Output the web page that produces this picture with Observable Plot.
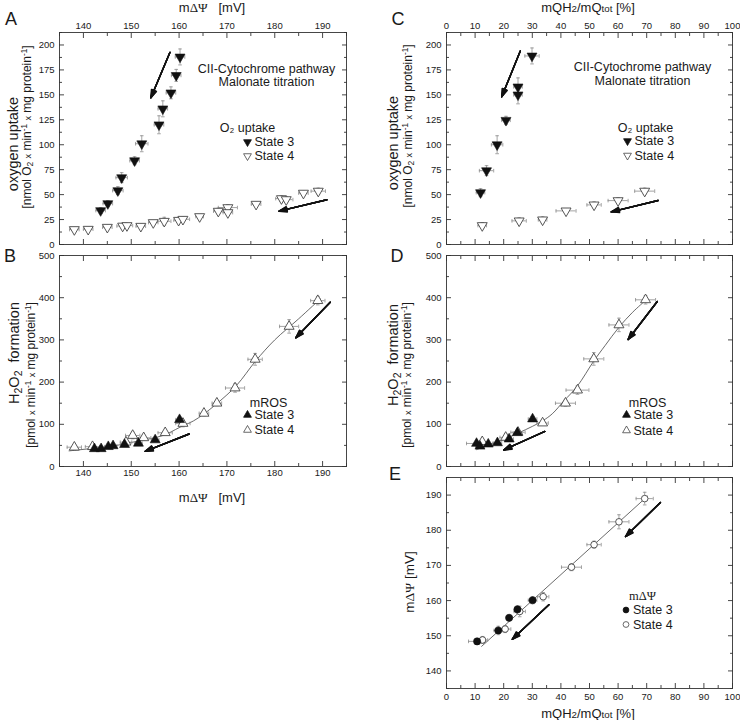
<!DOCTYPE html>
<html><head><meta charset="utf-8">
<script src="https://cdn.jsdelivr.net/npm/d3@7"></script>
<script src="https://cdn.jsdelivr.net/npm/@observablehq/plot@0.6"></script>
<style>
body{margin:0;background:#fff;font-family:"Liberation Sans",Arial,sans-serif;color:#1a1a1a}
#wrap{position:relative;width:740px;height:720px;overflow:hidden;background:#fff}
.pl{position:absolute}
.pl svg{background:transparent !important}
.lbl{position:absolute;white-space:nowrap;line-height:1;color:#1a1a1a}
.ctr{transform:translate(-50%,-50%)}
.rot{transform:translate(-50%,-50%) rotate(-90deg)}
.sb{font-size:72%;position:relative;top:0.28em}
.sp{font-size:68%;position:relative;top:-0.45em}
.sx{font-size:75%}
.gr{font-family:"Liberation Serif","DejaVu Serif",serif}
</style></head><body><div id="wrap"></div>
<script>
// ---------- Panel A : O2 uptake vs mΔΨ ----------
const aS3x  = [143.6,145.1,147.2,148.0,150.7,152.2,155.8,156.6,158.3,159.4,160.2];
const aS3y  = [34,41,54,67,84,101,120,136,152,169.5,188];
const aS3ex = [1.0,1.0,1.1,1.2,1.0,1.3,1.0,1.0,1.0,1.0,1.0];
const aS3ey = [3,3,4,5,4,8,9,8,6,6,8];
const aS4x  = [138.1,141.0,145.0,148.2,149.1,152.0,154.6,156.9,159.9,160.8,164.3,168.2,170.2,170.2,176.1,181.4,182.4,186.0,189.1];
const aS4y  = [15,15.3,17.3,18.5,19,18.3,22,23.3,24.3,25.3,28,33.4,37,32,40.4,46,45,51.5,53.5];
const aS4ex = [1,1,1,1.2,1.2,1,1,1.4,1,1.4,0.8,1,2,1,1,1.2,1.4,1,1.5];
const aS4ey = [2,2,2,2,2,2,2,4,2,2,2,3,3,3,2,3,3,2,3];
const arrowsA = [[158.1,192.6,154.1,147],[190.9,44.8,180.9,33.4]];

// ---------- Panel B : H2O2 vs mΔΨ ----------
const bS3x  = [142.3,143.7,145.2,146.2,148.6,151.5,155.0,160.1];
const bS3y  = [42,42,47,49,52,55,63,111];
const bS3ex = [0.8,0.8,0.8,0.8,0.8,0.8,0.8,0.8];
const bS3ey = [3,3,3,3,3,3,4,6];
const bS4x  = [138.1,141.9,148.9,150.3,152.6,157.1,160.8,165.2,167.9,171.7,175.9,183.0,189.0];
const bS4y  = [45.7,47,57.6,73.5,68,80,102,126,150,186,254,332,393];
const bS4ex = [1.5,1.5,1.2,1.5,1.5,1.5,1.5,1,1,2,1.5,2,1.5];
const bS4ey = [6,5,5,8,6,5,8,6,6,10,14,16,10];
const fitBx = [137,142,146,150,154,157,160,163,165,168,172,176,180,185,189.5];
const fitBy = [37,43,48,57,66,75,92,108,123,150,192,250,300,350,397];
const arrowsB = [[191.6,389,184.4,305],[162.1,77,152.9,36]];

// ---------- Panel C : O2 uptake vs mQH2/mQtot ----------
const cS3x  = [11.9,14.0,17.7,20.8,25.0,25.0,29.9];
const cS3y  = [52,74,100,124.5,158,150,189];
const cS3ex = [1.5,2.5,2,1.5,1.5,1.5,2.5];
const cS3ey = [4,5,9,4,9,9,8];
const cS4x  = [12.5,25.4,33.6,41.8,51.6,60.0,69.3];
const cS4y  = [19,23.7,24.7,33.7,39.7,44,53.5];
const cS4ex = [1.5,2.5,1.5,3.5,2.5,3.5,3.5];
const cS4ey = [3,3,3,2,3,3,3];
const arrowsC = [[25.8,194,19.3,148],[74,44.1,57.6,32.7]];

// ---------- Panel D : H2O2 vs mQH2/mQtot ----------
const dS3x  = [10.5,11.7,14.6,17.8,21.9,24.8,30.1];
const dS3y  = [54.6,48,53,56,65,80,112.5];
const dS3ex = [3.5,1.5,1.5,1.5,1.5,1.5,1.5];
const dS3ey = [4,3,3,3,3,3,5];
const dS4x  = [12.5,20.7,25,33.6,41.6,45.8,51.5,60.3,69.6];
const dS4y  = [58.6,69,81,103,150,181,255,335.5,395];
const dS4ex = [2,2,2.5,2,3.5,4,3.5,3.5,3.5];
const dS4ey = [5,8,6,5,7,10,15,16,10];
const fitDx = [10.5,15,20,25,30,33.8,37,41,45.7,51.5,55.5,60.3,65,69.5];
const fitDy = [40,52,64,79,95,109,125,155,190,250,287,330,365,393];
const arrowsD = [[73.7,391,63.5,301],[34.4,83,20,39]];

// ---------- Panel E : mΔΨ vs mQH2/mQtot ----------
const eS3x  = [10.7,18.1,21.9,24.8,30.1];
const eS3y  = [148.4,151.5,155.1,157.5,160.1];
const eS3ex = [3,1.5,1,1,1.5];
const eS3ey = [0.8,1.2,0.8,1,1];
const eS4x  = [12.6,20.5,25.6,33.8,43.7,51.6,60.3,69.3];
const eS4y  = [148.8,151.9,156.9,161.1,169.5,175.9,182.4,189];
const eS4ex = [1.8,2,2,2,3.5,2.5,3.5,3];
const eS4ey = [1,1,1.5,1.2,1,1,2,1.8];
const fitEx = [12.3,70.3];
const fitEy = [147,189.7];
const arrowsE = [[74.8,187.9,62.6,178.2],[35.8,158.8,23,149]];

// ---------- ticks ----------
const psiMajor = [140,150,160,170,180,190];
const psiMinor = [135,145,155,165,175,185,195];
const pctMajor = [0,10,20,30,40,50,60,70,80,90,100];
const pctMinor = [5,15,25,35,45,55,65,75,85,95];
const o2Major  = [0,25,50,75,100,125,150,175,200];
const o2Minor  = [12.5,37.5,62.5,87.5,112.5,137.5,162.5,187.5,212.5];
const rosMajor = [0,100,200,300,400,500];
const rosMinor = [50,150,250,350,450];
const psiYMajor = [140,150,160,170,180,190];
const psiYMinor = [135,145,155,165,175,185,195];

// ---------- helpers ----------
const S3 = Math.sqrt(3);
const triDown = {draw(ctx, size){ const y = -Math.sqrt(size/(S3*3)); ctx.moveTo(0,-2*y); ctx.lineTo(-S3*y, y); ctx.lineTo(S3*y, y); ctx.closePath(); }};
const triUp = {draw(ctx, size){ const y = -Math.sqrt(size/(S3*3)); ctx.moveTo(0,2*y); ctx.lineTo(-S3*y, -y); ctx.lineTo(S3*y, -y); ctx.closePath(); }};
const hcap = {draw(ctx, size){ const r = Math.sqrt(size/Math.PI); ctx.moveTo(-r,0); ctx.lineTo(r,0); }};
const vcap = {draw(ctx, size){ const r = Math.sqrt(size/Math.PI); ctx.moveTo(0,-r); ctx.lineTo(0,r); }};

const pts = (xs, ys, exs, eys) => xs.map((x,i)=>({x, y: ys[i], ex: exs[i], ey: eys[i]}));
const line = (xs, ys) => xs.map((x,i)=>({x, y: ys[i]}));
const arr = a => a.map(([x1,y1,x2,y2])=>({x1,y1,x2,y2}));

function errMarks(data){
  const g = {stroke:"#8c8c8c", strokeWidth:0.8, fill:"none"};
  return [
    Plot.ruleY(data, {y:"y", x1:d=>d.x-d.ex, x2:d=>d.x+d.ex, stroke:g.stroke, strokeWidth:g.strokeWidth}),
    Plot.ruleX(data, {x:"x", y1:d=>d.y-d.ey, y2:d=>d.y+d.ey, stroke:g.stroke, strokeWidth:g.strokeWidth}),
    Plot.dot(data, {x:d=>d.x-d.ex, y:"y", symbol:vcap, r:1.8, ...g}),
    Plot.dot(data, {x:d=>d.x+d.ex, y:"y", symbol:vcap, r:1.8, ...g}),
    Plot.dot(data, {x:"x", y:d=>d.y-d.ey, symbol:hcap, r:1.8, ...g}),
    Plot.dot(data, {x:"x", y:d=>d.y+d.ey, symbol:hcap, r:1.8, ...g})
  ];
}
function filled(data, symbol, r=3.7){ return Plot.dot(data, {x:"x", y:"y", symbol, r, fill:"#111", stroke:"#111", strokeWidth:0.6}); }
function open(data, symbol, r=3.7){ return Plot.dot(data, {x:"x", y:"y", symbol, r, fill:"#fff", stroke:"#444", strokeWidth:0.9}); }
function arrows(a){
  const d = arr(a);
  return [38, 30, 22, 14, 6].map(h => Plot.arrow(d, {x1:"x1", y1:"y1", x2:"x2", y2:"y2", stroke:"#111", strokeWidth:1.4, headLength:9, headAngle:h}));
}
function txt(s, dx, dy, opts={}){ return Plot.text([s], {frameAnchor:"top-left", dx, dy, text:d=>d, fontSize:12.5, fill:"#1a1a1a", textAnchor:"middle", lineAnchor:"middle", ...opts}); }
function mark(symbol, dx, dy, isFilled){ return Plot.dot([0], {frameAnchor:"top-left", dx, dy, symbol, r:2.9, fill: isFilled?"#111":"#fff", stroke: isFilled?"#111":"#444", strokeWidth:0.8}); }
function legend(title, tdx, mdx, dy0, sym, gap, titleFont){
  return [
    txt(title, tdx, dy0, titleFont ? {fontFamily:titleFont} : {}),
    mark(sym[0], mdx, dy0+gap[0], true),
    txt("State 3", mdx+7, dy0+gap[0], {textAnchor:"start"}),
    mark(sym[1], mdx, dy0+gap[1], false),
    txt("State 4", mdx+7, dy0+gap[1], {textAnchor:"start"})
  ];
}

function panel(o){
  const t = {fill:"none", label:null, stroke:"#333", strokeWidth:0.9};
  const marks = [
    Plot.axisX(o.xMaj, {...t, anchor:"top", tickSize:-5}),
    Plot.axisX(o.xMaj, {...t, anchor:"bottom", tickSize:-5}),
    Plot.axisX(o.xMin, {...t, anchor:"top", tickSize:-3}),
    Plot.axisX(o.xMin, {...t, anchor:"bottom", tickSize:-3}),
    Plot.axisY(o.yMaj, {...t, anchor:"left", tickSize:-5}),
    Plot.axisY(o.yMaj, {...t, anchor:"right", tickSize:-5}),
    Plot.axisY(o.yMin, {...t, anchor:"left", tickSize:-3}),
    Plot.axisY(o.yMin, {...t, anchor:"right", tickSize:-3}),
    o.xLab ? Plot.axisX(o.xMaj, {anchor:o.xLab, tickSize:0, tickPadding:o.xPad, label:null, fill:"#1a1a1a"}) : null,
    ...o.marks,
    Plot.frame({stroke:"#333", strokeWidth:0.9}),
    Plot.text(o.yMaj, {x:null, y:d=>d, frameAnchor:"left", dx:-5, text:d=>String(d), textAnchor:"end", lineAnchor:"middle", fill:"#1a1a1a"})
  ];
  const svg = Plot.plot({
    width:o.width, height:o.height,
    marginLeft:o.mL, marginRight:o.mR, marginTop:o.mT, marginBottom:o.mB,
    x:{domain:o.xDom, axis:null}, y:{domain:o.yDom, axis:null},
    style:{fontFamily:'"Liberation Sans", Arial, sans-serif', fontSize:"9.5px", color:"#1a1a1a", background:"transparent", overflow:"visible"},
    marks
  });
  const div = document.createElement("div");
  div.className = "pl";
  div.style.left = o.left+"px"; div.style.top = o.top+"px";
  div.appendChild(svg);
  document.getElementById("wrap").appendChild(div);
}

// Panel E
panel({left:370, top:470, width:370, height:250, mL:76, mR:8, mT:7, mB:32,
  xDom:[0,100], yDom:[135,195], xMaj:pctMajor, xMin:pctMinor, yMaj:psiYMajor, yMin:psiYMinor, xLab:"bottom", xPad:5,
  marks:[
    Plot.line(line(fitEx,fitEy), {x:"x", y:"y", stroke:"#444", strokeWidth:0.8}),
    ...errMarks(pts(eS4x,eS4y,eS4ex,eS4ey)), ...errMarks(pts(eS3x,eS3y,eS3ex,eS3ey)),
    open(pts(eS4x,eS4y,eS4ex,eS4ey), "circle", 3.3), filled(pts(eS3x,eS3y,eS3ex,eS3ey), "circle", 3.6),
    ...arrows(arrowsE),
    ...legend("mΔΨ", 196, 179.5, 118, ["circle", "circle"], [14.5, 29], '"Liberation Serif", "DejaVu Serif", serif')
  ]});

// Panel B
panel({left:0, top:250, width:370, height:235, mL:59, mR:24, mT:5, mB:19,
  xDom:[135,195], yDom:[0,500], xMaj:psiMajor, xMin:psiMinor, yMaj:rosMajor, yMin:rosMinor, xLab:"bottom", xPad:3,
  marks:[
    Plot.line(line(fitBx,fitBy), {x:"x", y:"y", curve:"catmull-rom", stroke:"#444", strokeWidth:0.8}),
    ...errMarks(pts(bS4x,bS4y,bS4ex,bS4ey)), ...errMarks(pts(bS3x,bS3y,bS3ex,bS3ey)),
    open(pts(bS4x,bS4y,bS4ex,bS4ey), triUp), filled(pts(bS3x,bS3y,bS3ex,bS3ey), triUp),
    ...arrows(arrowsB),
    ...legend("mROS", 209, 188, 147, [triUp, triUp], [12.5, 27.5])
  ]});

// Panel D
panel({left:370, top:250, width:370, height:220, mL:76, mR:8, mT:5, mB:4,
  xDom:[0,100], yDom:[0,500], xMaj:pctMajor, xMin:pctMinor, yMaj:rosMajor, yMin:rosMinor, xLab:null,
  marks:[
    Plot.line(line(fitDx,fitDy), {x:"x", y:"y", curve:"catmull-rom", stroke:"#444", strokeWidth:0.8}),
    ...errMarks(pts(dS4x,dS4y,dS4ex,dS4ey)), ...errMarks(pts(dS3x,dS3y,dS3ex,dS3ey)),
    open(pts(dS4x,dS4y,dS4ex,dS4ey), triUp), filled(pts(dS3x,dS3y,dS3ex,dS3ey), triUp),
    ...arrows(arrowsD),
    ...legend("mROS", 201, 180, 147, [triUp, triUp], [12.5, 28])
  ]});

// Panel A
panel({left:0, top:0, width:370, height:250, mL:59, mR:24, mT:32, mB:6,
  xDom:[135,195], yDom:[0,212.5], xMaj:psiMajor, xMin:psiMinor, yMaj:o2Major, yMin:o2Minor, xLab:"top", xPad:4,
  marks:[
    ...errMarks(pts(aS4x,aS4y,aS4ex,aS4ey)), ...errMarks(pts(aS3x,aS3y,aS3ex,aS3ey)),
    open(pts(aS4x,aS4y,aS4ex,aS4ey), triDown), filled(pts(aS3x,aS3y,aS3ex,aS3ey), triDown),
    ...arrows(arrowsA),
    txt("CII-Cytochrome pathway", 207, 36), txt("Malonate titration", 207, 49.5),
    ...legend("O₂ uptake", 188, 188, 95, [triDown, triDown], [14.5, 28.5])
  ]});

// Panel C
panel({left:370, top:0, width:370, height:250, mL:76, mR:8, mT:32, mB:6,
  xDom:[0,100], yDom:[0,212.5], xMaj:pctMajor, xMin:pctMinor, yMaj:o2Major, yMin:o2Minor, xLab:"top", xPad:4,
  marks:[
    ...errMarks(pts(cS4x,cS4y,cS4ex,cS4ey)), ...errMarks(pts(cS3x,cS3y,cS3ex,cS3ey)),
    open(pts(cS4x,cS4y,cS4ex,cS4ey), triDown), filled(pts(cS3x,cS3y,cS3ex,cS3ey), triDown),
    ...arrows(arrowsC),
    txt("CII-Cytochrome pathway", 196, 34.5), txt("Malonate titration", 196, 48.5),
    ...legend("O₂ uptake", 199, 181, 95, [triDown, triDown], [13.5, 28])
  ]});

// ---------- titles & labels (HTML) ----------
const wrap = document.getElementById("wrap");
function lab(html, x, y, size, cls){
  const d = document.createElement("div");
  d.className = "lbl " + cls;
  d.style.left = x+"px"; d.style.top = y+"px"; d.style.fontSize = size+"px";
  d.innerHTML = html;
  wrap.appendChild(d);
}
const psiTitle = 'm<span class="gr">ΔΨ</span>&nbsp;&nbsp;&nbsp;[mV]';
const qTitle = 'mQH<span class="sx">2</span>/mQ<span class="sx">tot</span> [%]';
const o2Title = "oxygen uptake";
const o2Unit = '[nmol O<span class="sb">2</span> <span class="sx">x</span> min<span class="sp">-1</span> <span class="sx">x</span> mg protein<span class="sp">-1</span>]';
const rosTitle = 'H<span class="sb">2</span>O<span class="sb">2</span>&nbsp; formation';
const rosUnit = '[pmol <span class="sx">x</span> min<span class="sp">-1</span> <span class="sx">x</span> mg protein<span class="sp">-1</span>]';

lab(psiTitle, 212, 7, 13, "ctr");
lab(psiTitle, 212, 497, 13, "ctr");
lab(qTitle, 588, 7, 13, "ctr");
lab(qTitle, 588, 713, 13, "ctr");
lab(o2Title, 13, 144, 14.5, "rot");
lab(o2Unit, 27, 127, 12, "rot");
lab(o2Title, 393, 143, 14.5, "rot");
lab(o2Unit, 408, 126, 12, "rot");
lab(rosTitle, 14, 353, 14.5, "rot");
lab(rosUnit, 30.5, 375, 12, "rot");
lab(rosTitle, 393, 355, 14.5, "rot");
lab(rosUnit, 407, 375, 12, "rot");
lab('m<span class="gr">ΔΨ</span> [mV]', 410, 582, 13.5, "rot");
lab("A", 11, 19, 18, "ctr");
lab("B", 10, 256, 18, "ctr");
lab("C", 398, 19, 18, "ctr");
lab("D", 397, 256, 18, "ctr");
lab("E", 395, 474, 18, "ctr");
</script></body></html>
